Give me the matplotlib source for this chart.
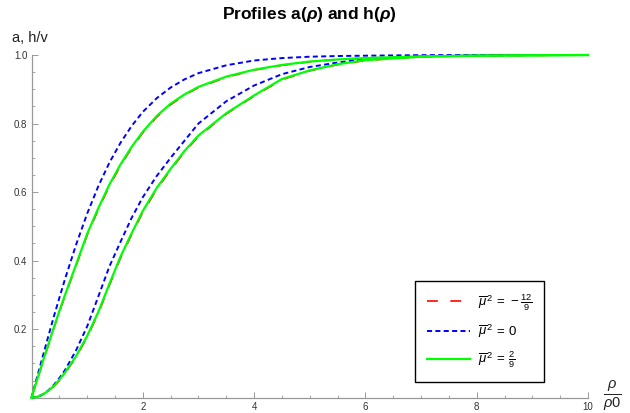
import matplotlib
matplotlib.use("Agg")
import matplotlib.pyplot as plt
from matplotlib.ticker import MultipleLocator, FixedLocator

plt.rcParams['font.family'] = ['Liberation Sans', 'DejaVu Sans']
plt.rcParams['mathtext.fontset'] = 'custom'
plt.rcParams['mathtext.rm'] = 'Liberation Sans'
plt.rcParams['mathtext.it'] = 'Liberation Sans:italic'
plt.rcParams['mathtext.bf'] = 'Liberation Sans:bold'
try:
    plt.rcParams['mathtext.bfit'] = 'Liberation Sans:italic:bold'
    BFIT = True
except KeyError:
    BFIT = False

# ---- data ----
rho = [0, 0.1, 0.2, 0.3, 0.4, 0.5, 0.6, 0.8, 1.0, 1.2, 1.4, 1.6, 1.8, 2.0,
       2.25, 2.5, 2.75, 3.0, 3.5, 4.0, 4.5, 5.0, 5.5, 6.0, 7.0, 8.0, 9.0, 10.0]

# mu^2 = 0 (blue dashed)
h_mu0 = [0, 0.060, 0.119, 0.178, 0.236, 0.291, 0.345, 0.446, 0.537, 0.617,
         0.686, 0.744, 0.793, 0.834, 0.874, 0.905, 0.929, 0.947, 0.970,
         0.984, 0.991, 0.995, 0.997, 0.998, 0.9996, 0.9999, 1.0, 1.0]
a_mu0 = [0, 0.0025, 0.0095, 0.021, 0.037, 0.057, 0.080, 0.138, 0.208, 0.295,
         0.383, 0.455, 0.525, 0.585, 0.647, 0.700, 0.750, 0.800, 0.865,
         0.911, 0.944, 0.965, 0.978, 0.988, 0.996, 0.999, 1.0, 1.0]

# mu^2 = 2/9 (green solid)
h_mu29 = [0, 0.052, 0.104, 0.154, 0.204, 0.253, 0.299, 0.388, 0.478, 0.553,
          0.622, 0.681, 0.732, 0.776, 0.822, 0.858, 0.885, 0.907, 0.937,
          0.957, 0.971, 0.981, 0.987, 0.991, 0.996, 0.998, 0.999, 1.0]
a_mu29 = [0, 0.002, 0.009, 0.020, 0.034, 0.052, 0.073, 0.121, 0.180, 0.250,
          0.332, 0.412, 0.480, 0.545, 0.612, 0.668, 0.720, 0.765, 0.830,
          0.882, 0.930, 0.955, 0.973, 0.985, 0.995, 0.998, 0.999, 1.0]

# mu^2 = -12/9 (red long dashes, almost hidden under green)
h_mum129 = [0, 0.051, 0.102, 0.152, 0.202, 0.250, 0.296, 0.385, 0.474, 0.549,
            0.618, 0.677, 0.729, 0.773, 0.819, 0.855, 0.883, 0.905, 0.935,
            0.956, 0.970, 0.980, 0.987, 0.991, 0.996, 0.998, 0.999, 1.0]
a_mum129 = [0, 0.002, 0.008, 0.019, 0.033, 0.050, 0.071, 0.118, 0.177, 0.246,
            0.328, 0.408, 0.476, 0.541, 0.608, 0.665, 0.717, 0.762, 0.828,
            0.880, 0.928, 0.954, 0.972, 0.984, 0.995, 0.998, 0.999, 1.0]

labels = [r'$\overline{\mu}^{\,2}\, =\, -\frac{12}{9}$',
          r'$\overline{\mu}^{\,2}\, =\, 0$',
          r'$\overline{\mu}^{\,2}\, =\, \frac{2}{9}$']
xticks = [2, 4, 6, 8, 10]
yticks = [0.2, 0.4, 0.6, 0.8, 1.0]

RED = (1, 0, 0)
BLUE = (0, 0, 1)
GREEN = (0, 1, 0)

W, H = 630, 413
fig = plt.figure(figsize=(W / 100, H / 100), dpi=100)
x0, x1 = 31.5, 588.0
y0, y1 = 397.7, 55.0
ax = fig.add_axes([x0 / W, 1 - y0 / H, (x1 - x0) / W, (y0 - y1) / H])

red_dash = (6.5, 7.5)
blue_dash = (2.6, 1.7)

lr, = ax.plot(rho, h_mum129, color=RED, lw=1.2, dashes=red_dash, clip_on=False, zorder=2)
ax.plot(rho, a_mum129, color=RED, lw=1.2, dashes=red_dash, clip_on=False, zorder=2)
lb, = ax.plot(rho, h_mu0, color=BLUE, lw=1.4, dashes=blue_dash, clip_on=False, zorder=3)
ax.plot(rho, a_mu0, color=BLUE, lw=1.4, dashes=blue_dash, clip_on=False, zorder=3)
lg, = ax.plot(rho, h_mu29, color=GREEN, lw=1.6, clip_on=False, zorder=4)
ax.plot(rho, a_mu29, color=GREEN, lw=1.6, clip_on=False, zorder=4)

ax.set_xlim(0, 10.0)
ax.set_ylim(0, 1.0)
for s in ['top', 'right']:
    ax.spines[s].set_visible(False)
for s in ['left', 'bottom']:
    ax.spines[s].set_color('#999999')
    ax.spines[s].set_linewidth(0.9)

ax.xaxis.set_major_locator(FixedLocator(xticks))
ax.xaxis.set_minor_locator(MultipleLocator(0.5))
ax.yaxis.set_major_locator(FixedLocator(yticks))
ax.yaxis.set_minor_locator(MultipleLocator(0.05))
ax.set_xticklabels([str(t) for t in xticks])
ax.set_yticklabels(['%.1f' % t for t in yticks])
ax.tick_params(which='major', direction='in', length=4, width=0.7, color='#999999',
               labelsize=7, labelcolor='#333333', pad=3)
ax.tick_params(which='minor', direction='in', length=2.2, width=0.6, color='#999999')

if BFIT:
    title = r'Profiles a($\mathbfit{\rho}$) and h($\mathbfit{\rho}$)'
else:
    title = r'Profiles a($\rho$) and h($\rho$)'
fig.text(309 / W, 1 - 14 / H, title, ha='center', va='center',
         fontsize=12.5, fontweight='bold')
fig.text(12 / W, 1 - 38 / H, 'a, h/v', ha='left', va='center', fontsize=10.5, color='#222222')
fig.text(612 / W, 1 - 396 / H, r'$\frac{\rho}{\rho 0}$', ha='center', va='center',
         fontsize=15, color='#222222')

leg = ax.legend([lr, lb, lg], labels, loc='lower left',
                bbox_to_anchor=(0.69, 0.047), borderaxespad=0,
                fancybox=False, edgecolor='black', framealpha=1,
                fontsize=9.5, handlelength=3.3, handletextpad=0.6,
                labelspacing=0.75, borderpad=0.85)
leg.get_frame().set_linewidth(1.0)

fig.savefig('out.png', dpi=100)
